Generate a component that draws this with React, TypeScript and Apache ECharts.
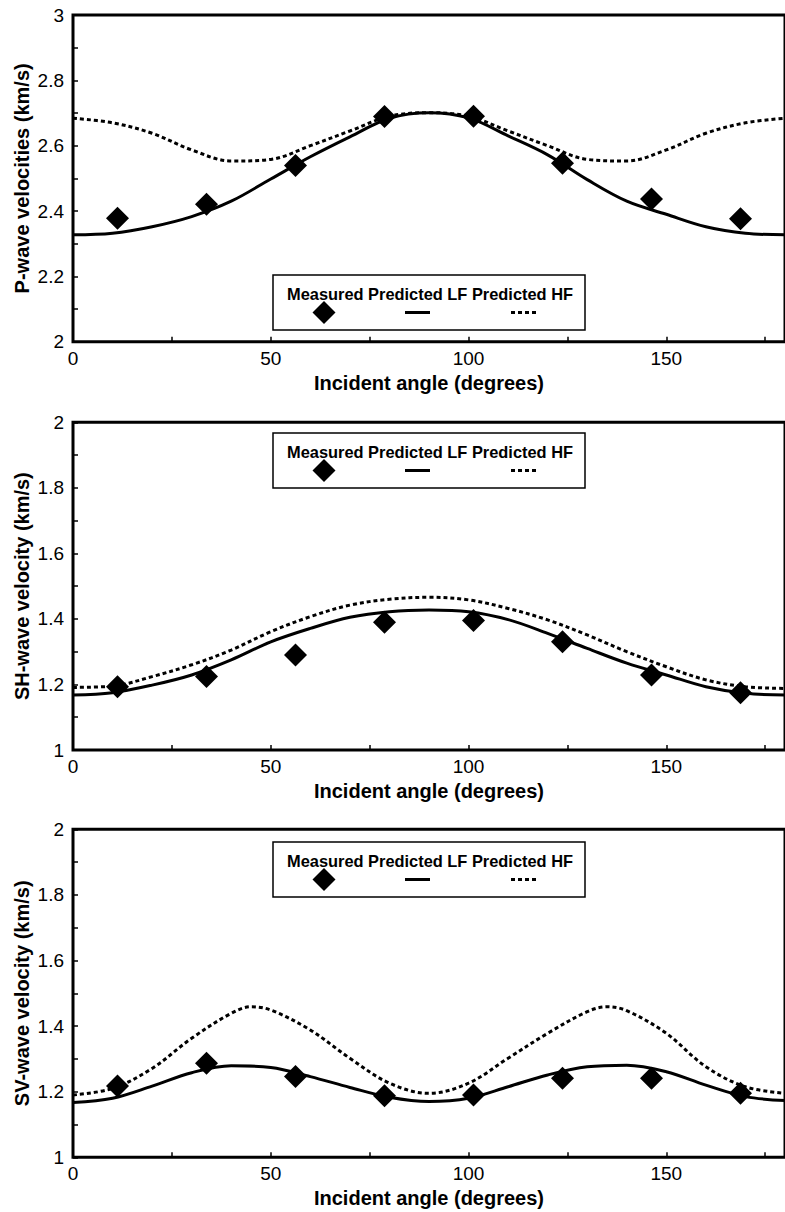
import React, { useEffect, useRef } from "react";
import * as echarts from "echarts";

// ---- data ----
const ANGLES = [0, 10, 20, 30, 40, 50, 60, 70, 80, 90, 100, 110, 120, 130, 140, 150, 160, 170, 180];
const MEAS_ANGLES = [11.25, 33.75, 56.25, 78.75, 101.25, 123.75, 146.25, 168.75];

const P_MEAS = [2.378, 2.421, 2.539, 2.689, 2.69, 2.546, 2.437, 2.376];
const P_LF = [2.327, 2.332, 2.352, 2.383, 2.43, 2.498, 2.566, 2.627, 2.684, 2.701, 2.685, 2.63, 2.572, 2.496, 2.43, 2.39, 2.352, 2.332, 2.327];
const P_HF = [2.684, 2.67, 2.638, 2.587, 2.553, 2.558, 2.6, 2.645, 2.69, 2.701, 2.69, 2.645, 2.6, 2.558, 2.553, 2.587, 2.638, 2.67, 2.684];

const SH_MEAS = [1.193, 1.224, 1.29, 1.39, 1.395, 1.33, 1.229, 1.175];
const SH_LF = [1.168, 1.175, 1.198, 1.229, 1.275, 1.33, 1.371, 1.405, 1.422, 1.427, 1.422, 1.398, 1.356, 1.31, 1.265, 1.229, 1.193, 1.173, 1.168];
const SH_HF = [1.191, 1.195, 1.224, 1.26, 1.305, 1.361, 1.407, 1.442, 1.46, 1.466, 1.458, 1.432, 1.397, 1.351, 1.3, 1.254, 1.214, 1.193, 1.188];

const SV_MEAS = [1.217, 1.287, 1.246, 1.188, 1.19, 1.241, 1.241, 1.195];
const SV_LF = [1.167, 1.18, 1.217, 1.258, 1.279, 1.274, 1.246, 1.213, 1.183, 1.17, 1.18, 1.215, 1.251, 1.276, 1.281, 1.261, 1.22, 1.185, 1.173];
const SV_HF_ANGLES = [0, 10, 20, 30, 40, 45, 50, 60, 70, 80, 90, 100, 110, 120, 130, 135, 140, 150, 160, 170, 180];
const SV_HF = [1.19, 1.21, 1.271, 1.363, 1.439, 1.459, 1.449, 1.388, 1.302, 1.226, 1.195, 1.226, 1.302, 1.378, 1.444, 1.459, 1.447, 1.378, 1.276, 1.215, 1.195];

const X_TITLE = "Incident angle (degrees)";
const LEGEND_TEXT = "Measured Predicted LF Predicted HF";
const SERIES_NAMES = ["Measured", "Predicted LF", "Predicted HF"];

const FONT = '"Liberation Sans", Arial, Helvetica, sans-serif';

const PANELS = [
  { top: 15, height: 326.7, yMin: 2, yMax: 3, yTitle: "P-wave velocities (km/s)", meas: P_MEAS, lf: P_LF, hf: P_HF, hfAngles: ANGLES, legendTop: 275 },
  { top: 422.3, height: 327.7, yMin: 1, yMax: 2, yTitle: "SH-wave velocity (km/s)", meas: SH_MEAS, lf: SH_LF, hf: SH_HF, hfAngles: ANGLES, legendTop: 433 },
  { top: 829.3, height: 328, yMin: 1, yMax: 2, yTitle: "SV-wave velocity (km/s)", meas: SV_MEAS, lf: SV_LF, hf: SV_HF, hfAngles: SV_HF_ANGLES, legendTop: 842 },
];

const pairs = (xs: number[], ys: number[]) => xs.map((x, i) => [x, ys[i]]);

function legendGraphic(top: number) {
  const textY = top + 19;
  const symY = top + 37.5;
  return [
    {
      type: "rect",
      z: 100,
      shape: { x: 273, y: top, width: 312, height: 55 },
      style: { fill: "#fff", stroke: "#000", lineWidth: 1.5 },
    },
    {
      type: "text",
      z: 101,
      x: 287,
      y: textY,
      style: {
        text: LEGEND_TEXT,
        font: `bold 16.4px ${FONT}`,
        fill: "#000",
        verticalAlign: "middle",
        align: "left",
      },
    },
    {
      type: "polygon",
      z: 101,
      shape: { points: [[324, symY - 11.5], [335.5, symY], [324, symY + 11.5], [312.5, symY]] },
      style: { fill: "#000" },
    },
    {
      type: "line",
      z: 101,
      shape: { x1: 405, y1: symY, x2: 430, y2: symY },
      style: { stroke: "#000", lineWidth: 3 },
    },
    {
      type: "line",
      z: 101,
      shape: { x1: 511, y1: symY, x2: 537, y2: symY },
      style: { stroke: "#000", lineWidth: 3, lineDash: [4, 3] },
    },
  ];
}

export default function App() {
  const ref = useRef<HTMLDivElement>(null);
  useEffect(() => {
    if (!ref.current) return;
    const chart = echarts.init(ref.current, null, { renderer: "svg" });
    const grid = PANELS.map((p) => ({
      left: 73,
      right: -3,
      top: p.top,
      height: p.height,
      show: true,
      borderColor: "#000",
      borderWidth: 3,
      backgroundColor: "transparent",
    }));
    const xAxis = PANELS.map((p, i) => ({
      type: "value",
      gridIndex: i,
      min: 0,
      max: 180,
      interval: 25,
      name: X_TITLE,
      nameLocation: "middle",
      nameGap: 31,
      nameMoveOverlap: false,
      nameTextStyle: { fontFamily: FONT, fontWeight: "bold", fontSize: 20, color: "#000" },
      axisLine: { show: false },
      axisTick: { show: true, inside: true, length: 5, lineStyle: { color: "#000", width: 1.5 } },
      splitLine: { show: false },
      axisLabel: {
        fontFamily: FONT,
        fontSize: 19,
        color: "#000",
        margin: 7,
        showMaxLabel: false,
        formatter: (v: number) => (v % 50 === 0 ? String(v) : ""),
      },
    }));
    const yAxis = PANELS.map((p, i) => ({
      type: "value",
      gridIndex: i,
      min: p.yMin,
      max: p.yMax,
      interval: 0.1,
      name: p.yTitle,
      nameLocation: "middle",
      nameGap: 41,
      nameMoveOverlap: false,
      nameTextStyle: { fontFamily: FONT, fontWeight: "bold", fontSize: 20, color: "#000" },
      axisLine: { show: false },
      axisTick: { show: true, inside: true, length: 5, lineStyle: { color: "#000", width: 1.5 } },
      splitLine: { show: false },
      axisLabel: {
        fontFamily: FONT,
        fontSize: 19,
        color: "#000",
        margin: 9,
        formatter: (v: number) => {
          const r = Math.round(v * 10);
          return r % 2 === 0 ? String(r / 10) : "";
        },
      },
    }));
    const series: any[] = [];
    PANELS.forEach((p, i) => {
      series.push({
        name: SERIES_NAMES[1],
        type: "line",
        xAxisIndex: i,
        yAxisIndex: i,
        data: pairs(ANGLES, p.lf),
        smooth: 0.35,
        showSymbol: false,
        symbol: "none",
        lineStyle: { color: "#000", width: 3 },
        z: 2,
      });
      series.push({
        name: SERIES_NAMES[2],
        type: "line",
        xAxisIndex: i,
        yAxisIndex: i,
        data: pairs(p.hfAngles, p.hf),
        smooth: 0.35,
        showSymbol: false,
        symbol: "none",
        lineStyle: { color: "#000", width: 3, type: [4, 3] },
        z: 2,
      });
      series.push({
        name: SERIES_NAMES[0],
        type: "scatter",
        xAxisIndex: i,
        yAxisIndex: i,
        data: pairs(MEAS_ANGLES, p.meas),
        symbol: "diamond",
        symbolSize: 23,
        itemStyle: { color: "#000", opacity: 1 },
        z: 3,
      });
    });
    chart.setOption({
      animation: false,
      backgroundColor: "#fff",
      textStyle: { fontFamily: FONT },
      grid,
      xAxis,
      yAxis,
      series,
      graphic: PANELS.flatMap((p) => legendGraphic(p.legendTop)),
    });
    return () => chart.dispose();
  }, []);
  return (
    <div
      ref={ref}
      style={{ position: "absolute", left: 0, top: 0, width: 785, height: 1212, background: "#fff" }}
    />
  );
}
